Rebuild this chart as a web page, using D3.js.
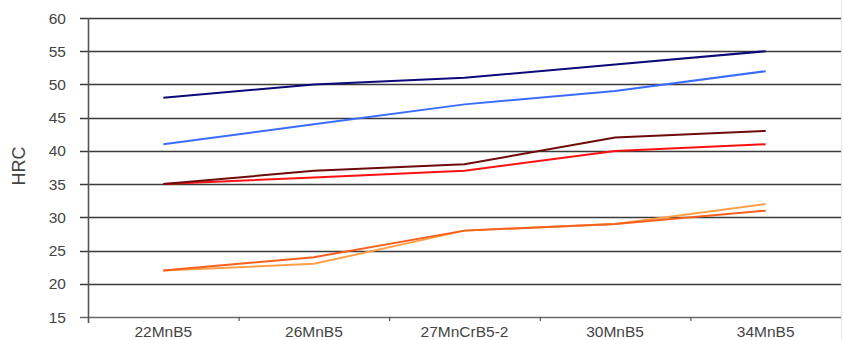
<!DOCTYPE html>
<html><head><meta charset="utf-8">
<script src="https://cdn.jsdelivr.net/npm/d3@7"></script>
<style>
html,body{margin:0;padding:0;background:#fff;}
svg{display:block;}
text{font-family:"Liberation Sans",Arial,Helvetica,sans-serif;}
</style></head>
<body>
<svg id="chart" width="843" height="340"></svg>
<script>
const categories = ["22MnB5","26MnB5","27MnCrB5-2","30MnB5","34MnB5"];
const yTicks = [15,20,25,30,35,40,45,50,55,60];
const seriesNavy = [48,50,51,53,55];
const seriesBlue = [41,44,47,49,52];
const seriesMaroon = [35,37,38,42,43];
const seriesRed = [35,36,37,40,41];
const seriesOrangeDark = [22,24,28,29,31];
const seriesOrangeLight = [22,23,28,29,32];
const series = [
  {values: seriesOrangeLight, color:"#ffa048"},
  {values: seriesOrangeDark, color:"#f7601e"},
  {values: seriesRed, color:"#ff1010"},
  {values: seriesMaroon, color:"#6e0a0a"},
  {values: seriesBlue, color:"#3a6cff"},
  {values: seriesNavy, color:"#0a0a78"}
];

const svg = d3.select("#chart");
const pLeft = 88, pRight = 841, pTop = 18, pBottom = 317;
const x = d3.scaleBand().domain(categories).range([pLeft, pRight]).padding(0);
const bw = x.bandwidth();
const y = d3.scaleLinear().domain([15,60]).range([pBottom, pTop]);

// right border line
svg.append("line").attr("x1",841.5).attr("x2",841.5).attr("y1",0).attr("y2",340)
  .attr("stroke","#e4e4e4").attr("stroke-width",1);

// gridlines
svg.append("g").selectAll("line").data(yTicks).join("line")
  .attr("x1",80).attr("x2",pRight)
  .attr("y1",d=>Math.round(y(d))+0.5).attr("y2",d=>Math.round(y(d))+0.5)
  .attr("stroke",d=> d===15 ? "#6a6a6a" : "#3a3a3a").attr("stroke-width",1.6);

// y axis labels
svg.append("g").selectAll("text").data(yTicks).join("text")
  .attr("x",66).attr("y",d=>y(d)+5.5)
  .attr("text-anchor","end").attr("font-size",15.5).attr("fill","#444")
  .text(d=>d);

// y axis line
svg.append("line").attr("x1",pLeft+0.5).attr("x2",pLeft+0.5).attr("y1",pTop).attr("y2",pBottom+6)
  .attr("stroke","#555").attr("stroke-width",1.6);

// x axis ticks at band boundaries
const boundaries = categories.slice(1).map(c=>x(c));
svg.append("g").selectAll("line").data(boundaries).join("line")
  .attr("x1",d=>d+0.5).attr("x2",d=>d+0.5).attr("y1",pBottom).attr("y2",pBottom+4)
  .attr("stroke","#555").attr("stroke-width",1.2);

// x labels
svg.append("g").selectAll("text").data(categories).join("text")
  .attr("x",d=>x(d)+bw/2).attr("y",337)
  .attr("text-anchor","middle").attr("font-size",15.5).attr("fill","#444")
  .text(d=>d);

// HRC label
svg.append("text").attr("transform","translate(25,166) rotate(-90)")
  .attr("text-anchor","middle").attr("font-size",18).attr("fill","#444").text("HRC");

// lines
const line = d3.line().x((d,i)=>x(categories[i])+bw/2).y(d=>y(d));
svg.append("g").selectAll("path").data(series).join("path")
  .attr("d",d=>line(d.values)).attr("fill","none")
  .attr("stroke",d=>d.color).attr("stroke-width",2);
</script>
</body></html>
